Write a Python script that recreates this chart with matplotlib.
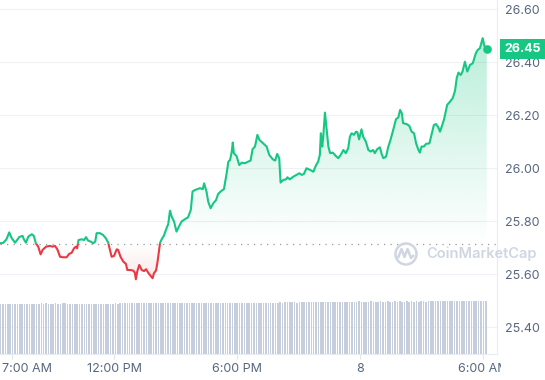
import numpy as np
import matplotlib
matplotlib.use("Agg")
import matplotlib.pyplot as plt
from matplotlib.patches import Rectangle, Circle
from matplotlib.path import Path
from matplotlib.patches import PathPatch
from matplotlib.transforms import Bbox, TransformedBbox, ScaledTranslation, blended_transform_factory

plt.rcParams['font.family'] = ['Inter', 'DejaVu Sans']

# price samples, minutes after 06:00 on the 7th
minutes = [13, 25, 34, 44, 52, 59, 69, 75, 81, 91,
           95, 101, 108, 118, 124, 130, 137, 144, 150, 160,
           171, 179, 186, 193, 201, 210, 220, 228, 235, 242,
           247, 251, 255, 264, 271, 277, 283, 291, 298, 304,
           308, 318, 327, 335, 342, 347, 352, 359, 367, 371,
           378, 386, 394, 398, 406, 415, 420, 423, 427, 433,
           440, 447, 453, 459, 466, 472, 476, 482, 486, 490,
           494, 499, 505, 511, 518, 523, 528, 535, 542, 550,
           557, 567, 576, 584, 589, 596, 603, 611, 619, 623,
           630, 635, 642, 650, 658, 664, 674, 681, 689, 694,
           699, 704, 707, 710, 718, 726, 733, 743, 752, 759,
           765, 772, 779, 785, 796, 806, 814, 824, 831, 837,
           843, 847, 855, 863, 867, 874, 884, 894, 902, 909,
           915, 923, 933, 943, 951, 957, 962, 965, 969, 972,
           977, 982, 987, 992, 1000, 1009, 1016, 1023, 1031, 1038,
           1045, 1050, 1055, 1062, 1068, 1072, 1077, 1084, 1089, 1097,
           1104, 1111, 1118, 1123, 1130, 1138, 1143, 1148, 1156, 1162,
           1169, 1177, 1185, 1192, 1197, 1202, 1206, 1216, 1224, 1231,
           1238, 1244, 1250, 1255, 1260, 1267, 1273, 1283, 1290, 1296,
           1302, 1309, 1314, 1319, 1326, 1335, 1343, 1351, 1358, 1363,
           1368, 1375, 1380, 1387, 1394, 1402, 1410, 1419, 1424, 1431,
           1439, 1444, 1451]

price = [25.718, 25.717, 25.718, 25.732, 25.758, 25.737, 25.719, 25.729, 25.740, 25.745,
         25.732, 25.719, 25.742, 25.751, 25.745, 25.717, 25.704, 25.675, 25.692, 25.704,
         25.707, 25.704, 25.707, 25.694, 25.666, 25.664, 25.664, 25.677, 25.681, 25.698,
         25.704, 25.698, 25.729, 25.732, 25.729, 25.740, 25.727, 25.723, 25.717, 25.723,
         25.755, 25.755, 25.748, 25.736, 25.719, 25.692, 25.666, 25.669, 25.694, 25.692,
         25.666, 25.648, 25.639, 25.616, 25.616, 25.614, 25.606, 25.581, 25.610, 25.635,
         25.616, 25.612, 25.619, 25.606, 25.594, 25.585, 25.604, 25.614, 25.642, 25.679,
         25.719, 25.733, 25.745, 25.767, 25.790, 25.840, 25.817, 25.799, 25.761, 25.782,
         25.799, 25.808, 25.815, 25.843, 25.912, 25.918, 25.921, 25.925, 25.921, 25.943,
         25.912, 25.874, 25.849, 25.868, 25.880, 25.903, 25.915, 25.921, 25.981, 26.025,
         26.031, 26.063, 26.097, 26.057, 26.046, 26.012, 26.021, 26.019, 26.025, 26.029,
         26.072, 26.082, 26.126, 26.107, 26.094, 26.082, 26.050, 26.034, 26.029, 26.054,
         26.038, 25.946, 25.956, 25.958, 25.966, 25.958, 25.968, 25.975, 25.981, 25.975,
         25.978, 26.000, 25.994, 25.987, 26.012, 26.025, 26.050, 26.132, 26.082, 26.119,
         26.210, 26.145, 26.082, 26.057, 26.059, 26.046, 26.038, 26.050, 26.069, 26.057,
         26.075, 26.119, 26.132, 26.126, 26.138, 26.136, 26.109, 26.147, 26.119, 26.100,
         26.069, 26.063, 26.069, 26.057, 26.072, 26.079, 26.054, 26.038, 26.044, 26.079,
         26.107, 26.145, 26.185, 26.192, 26.220, 26.208, 26.170, 26.167, 26.160, 26.138,
         26.132, 26.094, 26.072, 26.059, 26.082, 26.082, 26.092, 26.094, 26.132, 26.163,
         26.167, 26.155, 26.138, 26.157, 26.185, 26.239, 26.251, 26.264, 26.292, 26.340,
         26.361, 26.352, 26.365, 26.402, 26.365, 26.390, 26.396, 26.434, 26.446, 26.453,
         26.491, 26.462, 26.450]

open_price = 25.715
last_label = "26.45"

# volume bars, one every 7 minutes starting 06:13
vol_start = 13
vol_step = 7
volume = [50.0, 50.2, 50.0, 50.0, 50.3, 50.0, 50.1, 50.0, 50.4, 50.0,
          50.2, 50.0, 50.4, 50.3, 50.5, 50.2, 50.4, 50.3, 50.5, 51.4,
          50.4, 50.6, 50.3, 50.5, 50.4, 50.7, 50.5, 50.4, 51.3, 50.6,
          50.4, 50.3, 50.1, 50.2, 50.0, 50.3, 50.2, 50.1, 50.4, 50.2,
          50.3, 50.1, 50.2, 50.4, 50.2, 50.3, 50.5, 50.2, 50.3, 50.4,
          50.6, 50.4, 50.7, 50.9, 51.0, 50.8, 51.0, 51.1, 50.9, 51.2,
          51.0, 51.2, 51.0, 50.9, 51.1, 51.0, 51.2, 51.1, 50.9, 51.0,
          51.2, 51.0, 51.1, 51.3, 51.0, 51.2, 51.1, 51.3, 51.0, 51.2,
          51.1, 51.0, 51.2, 51.3, 51.2, 51.4, 51.1, 51.3, 51.2, 51.0,
          51.2, 51.3, 51.1, 51.2, 51.4, 51.2, 51.1, 51.3, 51.2, 51.4,
          51.3, 51.2, 51.4, 51.1, 51.3, 51.2, 51.4, 51.3, 51.2, 51.5,
          51.3, 51.4, 51.2, 51.3, 51.5, 51.4, 51.2, 51.3, 51.4, 51.6,
          51.5, 51.7, 51.6, 51.8, 51.6, 51.7, 51.5, 51.8, 51.7, 51.6,
          51.8, 51.7, 51.6, 51.8, 51.9, 51.7, 51.8, 52.0, 51.9, 52.3,
          52.2, 52.4, 52.2, 52.3, 52.1, 52.4, 52.3, 52.2, 52.4, 52.5,
          52.3, 52.4, 52.6, 52.4, 52.3, 52.5, 52.4, 52.6, 52.3, 52.5,
          52.4, 52.6, 52.5, 52.3, 52.6, 52.4, 52.5, 52.7, 52.4, 52.6,
          52.5, 52.4, 52.6, 52.5, 52.7, 52.4, 52.6, 52.5, 52.8, 52.6,
          52.5, 52.7, 52.6, 52.8, 52.9, 53.1, 53.0, 53.2, 53.0, 53.1,
          53.2, 53.0, 53.1, 53.3, 53.1, 53.0, 53.2, 53.1, 53.3, 53.2,
          53.1, 53.2, 53.0, 53.3, 53.1, 53.2]

tick_minutes = [60, 360, 720, 1080, 1440]
tick_labels = ["7:00 AM", "12:00 PM", "6:00 PM", "8", "6:00 AM"]
price_ticks = [25.40, 25.60, 25.80, 26.00, 26.20, 26.40, 26.60]

GREEN = "#16c784"
RED = "#ea3943"
TXT = "#58667e"
GRID = "#eff1f4"
BAR = "#c6cedd"
MARK = "#cfd6e2"

W, H = 545, 380
fig = plt.figure(figsize=(W / 100, H / 100), dpi=100)
pos = [0, 26 / H, 497 / W, 354 / H]
ax = fig.add_axes(pos)
axv = fig.add_axes(pos, sharex=ax)
axv.patch.set_visible(False)
axv.axis('off')

t = np.array(minutes, dtype=float)
p = np.array(price)
x0, x1 = 25, 1481
y0, y1 = 25.299, 26.635


def gradient_fill(where, far, a_far, color):
    poly = ax.fill_between(t, p, open_price, where=where, interpolate=True)
    clip = Path.make_compound_path(*poly.get_paths())
    poly.remove()
    lo, hi = sorted([open_price, far])
    a = np.linspace(0, a_far, 256)
    if far < open_price:
        a = a[::-1]
    rgba = np.zeros((256, 1, 4))
    rgba[..., :3] = matplotlib.colors.to_rgb(color)
    rgba[:, 0, 3] = a
    im = ax.imshow(rgba, extent=[x0, x1, lo, hi], origin='lower',
                   aspect='auto', interpolation='bilinear', zorder=1)
    im.set_clip_path(clip, transform=ax.transData)


gradient_fill(p >= open_price, 26.50, 0.30, GREEN)
gradient_fill(p <= open_price, 25.58, 0.13, RED)

# line, green above the open price and red below it
up = Rectangle((x0 - 100, open_price), 3000, 5, transform=ax.transData)
dn = Rectangle((x0 - 100, open_price - 5), 3000, 5, transform=ax.transData)
lg, = ax.plot(t, p, color=GREEN, lw=1.5, zorder=3, solid_joinstyle='round')
lr, = ax.plot(t, p, color=RED, lw=1.5, zorder=3, solid_joinstyle='round')
lg.set_clip_path(up)
lr.set_clip_path(dn)
ax.plot(t[-1], p[-1], 'o', ms=5.2, color=GREEN, zorder=4)

ax.axhline(open_price, color="#9a9a9a", lw=0.9, ls=(0, (1, 4.2)), zorder=2)

# volume
vt = vol_start + vol_step * np.arange(len(volume))
axv.bar(vt, volume, width=4.6, color=BAR, linewidth=0)
axv.set_ylim(0, 354)

ax.set_xlim(x0, x1)
ax.set_ylim(y0, y1)
ax.set_yticks(price_ticks)
ax.set_yticklabels([f"{v:.2f}" for v in price_ticks])
ax.yaxis.tick_right()
ax.grid(axis='y', color=GRID, lw=0.8)
ax.set_axisbelow(True)
ax.set_xticks(tick_minutes)
ax.set_xticklabels(tick_labels)
ax.tick_params(axis='y', length=0, pad=6, labelsize=9, labelcolor=TXT)
ax.tick_params(axis='x', length=3.5, width=0.8, color="#e3e6eb", pad=3,
               labelsize=9, labelcolor=TXT)
for s in ['top', 'left']:
    ax.spines[s].set_visible(False)
for s in ['bottom', 'right']:
    ax.spines[s].set_color("#e9ecf0")
    ax.spines[s].set_linewidth(0.8)

# first label sits inside the chart, last one is cut near the axis edge
labels = ax.get_xticklabels()
labels[0].set_horizontalalignment('left')
labels[0].set_transform(labels[0].get_transform() +
                        ScaledTranslation(-0.10, 0, fig.dpi_scale_trans))
cut = TransformedBbox(Bbox([[0, 0], [501 / W, 1]]), fig.transFigure)
labels[-1].set_clip_box(cut)
labels[-1].set_clip_on(True)

# price badge
blend = blended_transform_factory(fig.transFigure, ax.transData)
badge_h = 20 / 265 * 1.0
fig.add_artist(Rectangle((500 / W, p[-1] - badge_h / 2), 45 / W, badge_h,
                         transform=blend, color=GREEN, lw=0, zorder=5))
fig.text(522.5 / W, p[-1], last_label, transform=blend, ha='center', va='center',
         color='white', fontsize=9, fontweight='bold', zorder=6)

# watermark
fig.add_artist(Circle((406, H - 254), 10.5, transform=None, fill=False,
                      ec=MARK, lw=1.8, zorder=5))
m = Path([(398, H - 258), (401.5, H - 249), (404.5, H - 257),
          (407.5, H - 249), (411, H - 258), (414, H - 255)])
fig.add_artist(PathPatch(m, transform=None, fill=False, ec=MARK, lw=1.8,
                         joinstyle='round', zorder=5))
fig.text(426 / W, 1 - 254 / H, "CoinMarketCap", ha='left', va='center',
         color=MARK, fontsize=10.5, fontweight='semibold', zorder=5)

fig.savefig("out.png", dpi=100)
